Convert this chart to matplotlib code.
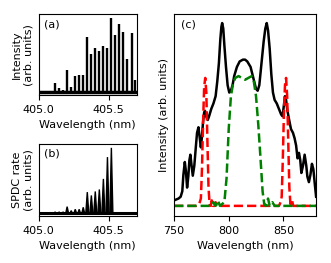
import numpy as np
import matplotlib
matplotlib.use("Agg")
import matplotlib.pyplot as plt

# ---- data ----
# comb line positions (nm), shared by panels (a) and (b)
comb_pos = [405.117, 405.146, 405.174, 405.203, 405.232, 405.261, 405.289,
            405.318, 405.347, 405.376, 405.404, 405.433, 405.462, 405.491,
            405.519, 405.548, 405.577, 405.605, 405.634, 405.663, 405.690]
# panel (a): measured pump spectrum
a_heights = [0.13, 0.06, 0.045, 0.31, 0.08, 0.23, 0.235, 0.235, 0.75, 0.52,
             0.60, 0.56, 0.63, 0.60, 1.00, 0.78, 0.93, 0.82, 0.46, 0.81, 0.18]
a_small_pos = [405.03, 405.06, 405.09]
a_small_h = [0.02, 0.03, 0.025]
# panel (b): SPDC rate per comb line
b_heights = [0.03, 0.03, 0.03, 0.11, 0.05, 0.07, 0.07, 0.10, 0.33, 0.28,
             0.34, 0.37, 0.53, 0.86, 1.00, 0.0, 0.0, 0.0, 0.0, 0.0, 0.0]

# panel (c): total spectrum (black)
c_wl = [750.0, 752, 754, 756, 757.5, 758.5, 759.8, 760.8, 761.9, 763, 764,
        764.9, 766, 767.1, 768.5, 770, 771, 772.3, 773.3, 774.5, 775.5,
        776.5, 777.5, 778.3, 779.3, 780.8, 782, 784, 786, 788, 789.5, 791,
        792.3, 793.3, 794, 795, 796, 797.5, 799, 800.5, 802, 803.5, 805,
        807.5, 810, 813, 815, 817, 820, 822.5, 825, 826.5, 828, 830, 832,
        833.5, 834.8, 836, 837.5, 839, 840.5, 842, 844, 846, 848, 849.3,
        850.5, 851.5, 852.5, 853.5, 855, 857, 858.8, 860.3, 861.7, 863,
        864.3, 865.5, 866.5, 868, 869.5, 871, 872, 873.4, 874.8, 876.2,
        877.5, 878.8, 880]
c_total = [0.03, 0.035, 0.04, 0.05, 0.08, 0.17, 0.24, 0.19, 0.10, 0.16,
           0.25, 0.28, 0.22, 0.165, 0.22, 0.33, 0.40, 0.43, 0.38, 0.32,
           0.38, 0.46, 0.51, 0.52, 0.49, 0.47, 0.49, 0.53, 0.56, 0.60,
           0.68, 0.78, 0.91, 0.98, 1.00, 0.97, 0.88, 0.76, 0.66, 0.62,
           0.63, 0.66, 0.71, 0.76, 0.79, 0.80, 0.80, 0.79, 0.76, 0.70,
           0.64, 0.63, 0.66, 0.78, 0.90, 0.97, 1.00, 0.96, 0.86, 0.72,
           0.62, 0.58, 0.56, 0.53, 0.50, 0.49, 0.55, 0.60, 0.58, 0.53,
           0.48, 0.42, 0.40, 0.37, 0.33, 0.26, 0.29, 0.25, 0.18, 0.22,
           0.28, 0.22, 0.16, 0.13, 0.17, 0.23, 0.20, 0.12, 0.05]
# side-band filter (red dashed)
red_wl = [750, 770, 773, 774.5, 775.5, 776.5, 777.5, 778.5, 779.5, 780.5,
          781.5, 782.5, 783.5, 784.5, 785.5, 787, 788, 789, 846, 847.5,
          848.5, 849.5, 850.5, 851.5, 852.5, 853.5, 854.5, 855.5, 856.5,
          858, 859, 880]
red_val = [0.0, 0.0, 0.01, 0.04, 0.20, 0.45, 0.65, 0.70, 0.62, 0.35, 0.10,
           0.01, 0.0, 0.03, 0.0, 0.0, 0.02, 0.0, 0.0, 0.02, 0.05, 0.25,
           0.50, 0.66, 0.70, 0.60, 0.35, 0.10, 0.01, 0.03, 0.0, 0.0]
# central band filter (green dashed)
green_wl = [750, 784, 786, 788, 790, 792, 794, 796, 798, 800, 802, 804, 806,
            809, 812, 815, 818, 821, 823, 825, 827, 829, 831, 832.5, 834,
            836, 837.5, 840, 842, 844, 880]
green_val = [0.0, 0.0, 0.02, 0.0, 0.03, 0.0, 0.01, 0.02, 0.15, 0.42, 0.60,
             0.67, 0.70, 0.71, 0.70, 0.69, 0.70, 0.71, 0.68, 0.60, 0.45,
             0.27, 0.08, 0.01, 0.0, 0.04, 0.0, 0.02, 0.0, 0.0, 0.0]

plt.rcParams['font.size'] = 8

fig = plt.figure(figsize=(3.31, 2.63), dpi=100)
ax_a = fig.add_axes([0.117, 0.638, 0.296, 0.309])
ax_b = fig.add_axes([0.117, 0.179, 0.296, 0.274])
ax_c = fig.add_axes([0.526, 0.179, 0.429, 0.768])

# (a) comb spectrum
ax_a.vlines(comb_pos, 0, a_heights, color='k', lw=1.7)
ax_a.vlines(a_small_pos, 0, a_small_h, color='k', lw=1.2)
ax_a.plot([405.0, 405.7], [0.01, 0.01], color='k', lw=2.5)
ax_a.set_xlim(405.0, 405.7)
ax_a.set_ylim(-0.03, 1.06)
ax_a.set_xticks([405.0, 405.5])
ax_a.set_yticks([])
ax_a.set_xlabel('Wavelength (nm)')
ax_a.set_ylabel('Intensity\n(arb. units)')
ax_a.text(0.05, 0.93, '(a)', transform=ax_a.transAxes, va='top')

# (b) SPDC rate
for p, h in zip(comb_pos, b_heights):
    if h > 0:
        ax_b.fill([p - 0.011, p, p + 0.011], [0, h, 0], color='k', lw=1.0)
ax_b.plot([405.0, 405.7], [0.01, 0.01], color='k', lw=2.2)
ax_b.set_xlim(405.0, 405.7)
ax_b.set_ylim(-0.03, 1.06)
ax_b.set_xticks([405.0, 405.5])
ax_b.set_yticks([])
ax_b.set_xlabel('Wavelength (nm)')
ax_b.set_ylabel('SPDC rate\n(arb. units)')
ax_b.text(0.05, 0.93, '(b)', transform=ax_b.transAxes, va='top')

# (c) broadband spectrum and filters
ax_c.plot(c_wl, c_total, color='k', lw=1.8)
ax_c.plot(red_wl, red_val, 'r--', lw=1.8)
ax_c.plot(green_wl, green_val, 'g--', lw=1.8)
ax_c.set_xlim(750, 880)
ax_c.set_ylim(-0.055, 1.05)
ax_c.set_xticks([750, 800, 850])
ax_c.set_yticks([])
ax_c.set_xlabel('Wavelength (nm)')
ax_c.set_ylabel('Intensity (arb. units)')
ax_c.text(0.05, 0.97, '(c)', transform=ax_c.transAxes, va='top')

plt.savefig('out.png', dpi=100)
